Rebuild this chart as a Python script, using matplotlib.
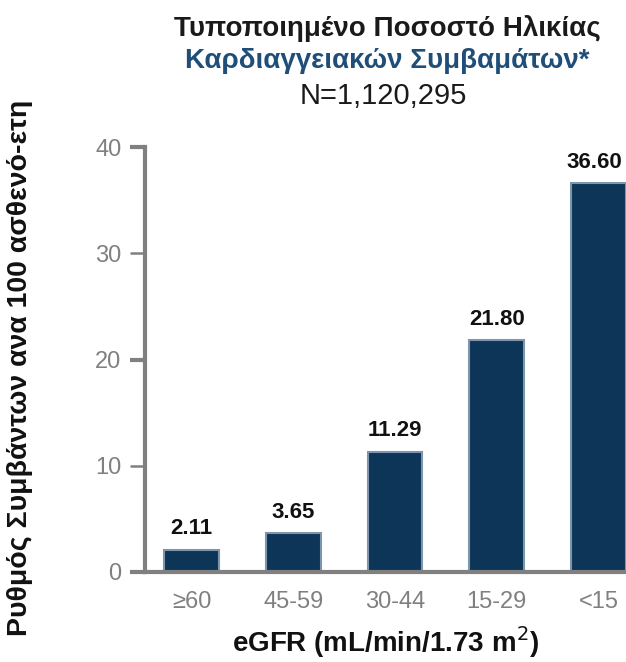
import matplotlib
matplotlib.use("Agg")
import matplotlib.pyplot as plt

categories = ["≥60", "45-59", "30-44", "15-29", "<15"]
rates = [2.11, 3.65, 11.29, 21.80, 36.60]
y_ticks = [0, 10, 20, 30, 40]

plt.rcParams["font.family"] = ["Liberation Sans", "DejaVu Sans"]

W, H = 626, 662
fig = plt.figure(figsize=(W / 100, H / 100), dpi=100)
ax = fig.add_axes([145 / W, 1 - 572 / H, (W - 145) / W, 425 / H])

x = list(range(len(categories)))
ax.bar(x, rates, width=0.54, color="#0d3557", edgecolor="#7d96ad", linewidth=1.5, zorder=2)

for xi, v in zip(x, rates):
    ax.text(xi - (0.04 if xi == 4 else 0), v + 1.0, f"{v:.2f}", ha="center",
            va="bottom", fontsize=16, fontweight="bold", color="#111111")

ax.set_xlim(-0.457, 4.27)
ax.set_ylim(0, 40)
ax.set_yticks(y_ticks)
ax.set_xticks(x)
ax.set_xticklabels(categories)

for s in ["top", "right"]:
    ax.spines[s].set_visible(False)
ax.spines["left"].set_color("#808080")
ax.spines["left"].set_linewidth(3)
ax.spines["bottom"].set_color("#808080")
ax.spines["bottom"].set_linewidth(3)
ax.spines["bottom"].set_zorder(3)

ax.tick_params(axis="x", length=0, pad=14, labelsize=17, labelcolor="#808080")
ax.tick_params(axis="y", length=11, width=3, color="#808080", pad=6,
               labelsize=17, labelcolor="#808080")
for i, t in enumerate(ax.yaxis.get_major_ticks()):
    if y_ticks[i] in (10, 30):
        t.tick1line.set_color("black")
        t.tick1line.set_markeredgewidth(1.8)

ax.set_xlabel("eGFR (mL/min/1.73 m$^2$)", fontsize=20, fontweight="bold",
              color="#111111", labelpad=8)
ax.set_ylabel("Ρυθμός Συμβάντων ανα 100 ασθενό-ετη", fontsize=20.5,
              fontweight="bold", color="#111111")
ax.yaxis.set_label_coords(-112 / (W - 145), 0.48)

fig.text(387 / W, 1 - 29 / H, "Τυποποιημένο Ποσοστό Ηλικίας", ha="center",
         va="center", fontsize=20, fontweight="bold", color="#1a1a1a")
fig.text(387 / W, 1 - 61 / H, "Καρδιαγγειακών Συμβαμάτων*", ha="center",
         va="center", fontsize=20, fontweight="bold", color="#1f4e79")
fig.text(383 / W, 1 - 96 / H, "N=1,120,295", ha="center", va="center",
         fontsize=21, color="#1a1a1a")

fig.savefig("out.png", dpi=100)
